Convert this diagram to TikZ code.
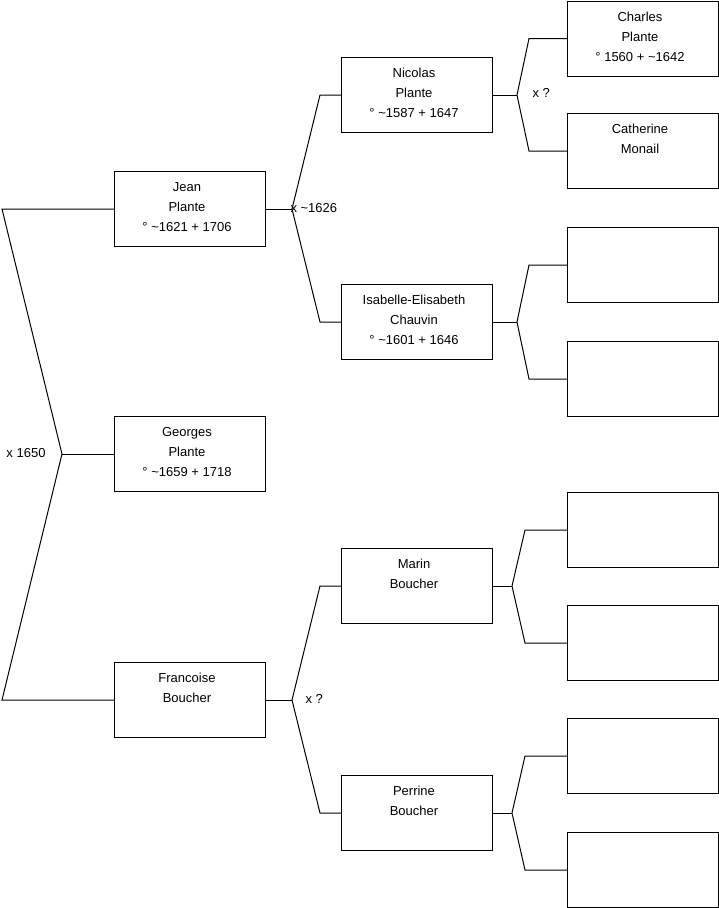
\documentclass[tikz,border=0pt]{standalone}
\usepackage{fontspec}
\setmainfont{Liberation Sans}
\begin{document}
\begin{tikzpicture}[x=1pt,y=-1pt,line width=1pt,
  box/.style={draw, minimum width=151pt, minimum height=75pt, inner sep=0pt, anchor=north west},
  txt/.style={anchor=north, align=center, inner sep=0pt, font=\fontsize{13}{20}\selectfont},
  lbl/.style={inner sep=0pt, font=\fontsize{13}{16}\selectfont},
  link/.style={draw, line width=1pt}]
\useasboundingbox (0,0) rectangle (719,908);
% column 1
\node[box] (jean) at (114,171) {};
\node[box] (georges) at (114,416) {};
\node[box] (francoise) at (114,662) {};
% column 2
\node[box] (nicolas) at (341,57) {};
\node[box] (isabelle) at (341,284) {};
\node[box] (marin) at (341,548) {};
\node[box] (perrine) at (341,775) {};
% column 3
\node[box] (charles) at (567,0.5) {};
\node[box] (catherine) at (567,113) {};
\node[box] (b3) at (567,227) {};
\node[box] (b4) at (567,341) {};
\node[box] (b5) at (567,492) {};
\node[box] (b6) at (567,605) {};
\node[box] (b7) at (567,718) {};
\node[box] (b8) at (567,832) {};
% texts
\tikzset{tpos/.style={xshift=-3pt,yshift=-11pt}}
\node[txt] (tjean) at ([tpos]jean.north) {Jean\\Plante\\° \textasciitilde1621 + 1706};
\node[txt] (tgeorges) at ([tpos]georges.north) {Georges\\Plante\\° \textasciitilde1659 + 1718};
\node[txt] (tfrancoise) at ([tpos]francoise.north) {Francoise\\Boucher};
\node[txt] (tnicolas) at ([tpos]nicolas.north) {Nicolas\\Plante\\° \textasciitilde1587 + 1647};
\node[txt] (tisabelle) at ([tpos]isabelle.north) {Isabelle-Elisabeth\\Chauvin\\° \textasciitilde1601 + 1646};
\node[txt] (tmarin) at ([tpos]marin.north) {Marin\\Boucher};
\node[txt] (tperrine) at ([tpos]perrine.north) {Perrine\\Boucher};
\node[txt] (tcharles) at ([tpos]charles.north) {Charles\\Plante\\° 1560 + \textasciitilde1642};
\node[txt] (tcatherine) at ([tpos]catherine.north) {Catherine\\Monail};
% root fork
\draw[link] (georges.west) -- ++(-52,0) coordinate (fR);
\draw[link] (jean.west) -- ([xshift=-112pt]jean.west) -- (fR) -- ([xshift=-112pt]francoise.west) -- (francoise.west);
\node[lbl, anchor=east] (m1) at ([xshift=-16pt,yshift=1pt]fR) {x 1650};
% Jean fork
\draw[link] (jean.east) -- ++(26,0) coordinate (fJ);
\draw[link] (nicolas.west) -- ([xshift=-21pt]nicolas.west) -- (fJ) -- ([xshift=-21pt]isabelle.west) -- (isabelle.west);
\node[lbl, anchor=west] (m2) at ([xshift=-2pt,yshift=1pt]fJ) {x \textasciitilde1626};
% Francoise fork
\draw[link] (francoise.east) -- ++(26,0) coordinate (fF);
\draw[link] (marin.west) -- ([xshift=-21pt]marin.west) -- (fF) -- ([xshift=-21pt]perrine.west) -- (perrine.west);
\node[lbl, anchor=west] (m3) at ([xshift=13pt,yshift=1pt]fF) {x ?};
% Nicolas fork
\draw[link] (nicolas.east) -- ++(24,0) coordinate (fN);
\draw[link] (charles.west) -- ([xshift=-38pt]charles.west) -- (fN) -- ([xshift=-38pt]catherine.west) -- (catherine.west);
\node[lbl, anchor=west] (m4) at ([xshift=15pt,yshift=2pt]fN) {x ?};
% Isabelle fork
\draw[link] (isabelle.east) -- ++(24,0) coordinate (fI);
\draw[link] (b3.west) -- ([xshift=-38pt]b3.west) -- (fI) -- ([xshift=-38pt]b4.west) -- (b4.west);
% Marin fork
\draw[link] (marin.east) -- ++(19,0) coordinate (fM);
\draw[link] (b5.west) -- ([xshift=-42pt]b5.west) -- (fM) -- ([xshift=-42pt]b6.west) -- (b6.west);
% Perrine fork
\draw[link] (perrine.east) -- ++(19,0) coordinate (fP);
\draw[link] (b7.west) -- ([xshift=-42pt]b7.west) -- (fP) -- ([xshift=-42pt]b8.west) -- (b8.west);
\end{tikzpicture}
\end{document}
